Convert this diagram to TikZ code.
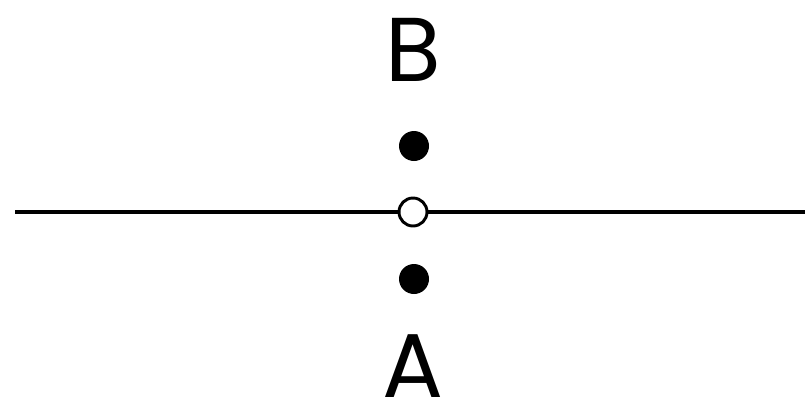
\documentclass[tikz,border=0pt]{standalone}
\usepackage{fontspec}
\setmainfont{Poppins}
\begin{document}
\begin{tikzpicture}[x=0.75pt,y=-0.75pt,
  dotfill/.style={circle,fill=black,draw=none,minimum size=22.5pt,inner sep=0pt},
  dotopen/.style={circle,fill=white,draw=black,line width=2.2pt,minimum size=21pt,inner sep=0pt},
  letter/.style={font=\fontsize{68}{70}\selectfont,inner sep=0pt,anchor=base},
  axis/.style={line width=2.3pt}]
\useasboundingbox (0,0) rectangle (805,400);
\coordinate (L) at (15,212);
\coordinate (R) at (805,212);
\node[dotopen] (O) at (413,212) {};
\draw[axis] (L) -- (O);
\draw[axis] (O) -- (R);
\node[dotfill] (P) at (414,146) {};
\node[dotfill] (Q) at (414,279) {};
\node[letter] (B) at (413,81) {B};
\node[letter] (A) at (413,397) {A};
\end{tikzpicture}
\end{document}
